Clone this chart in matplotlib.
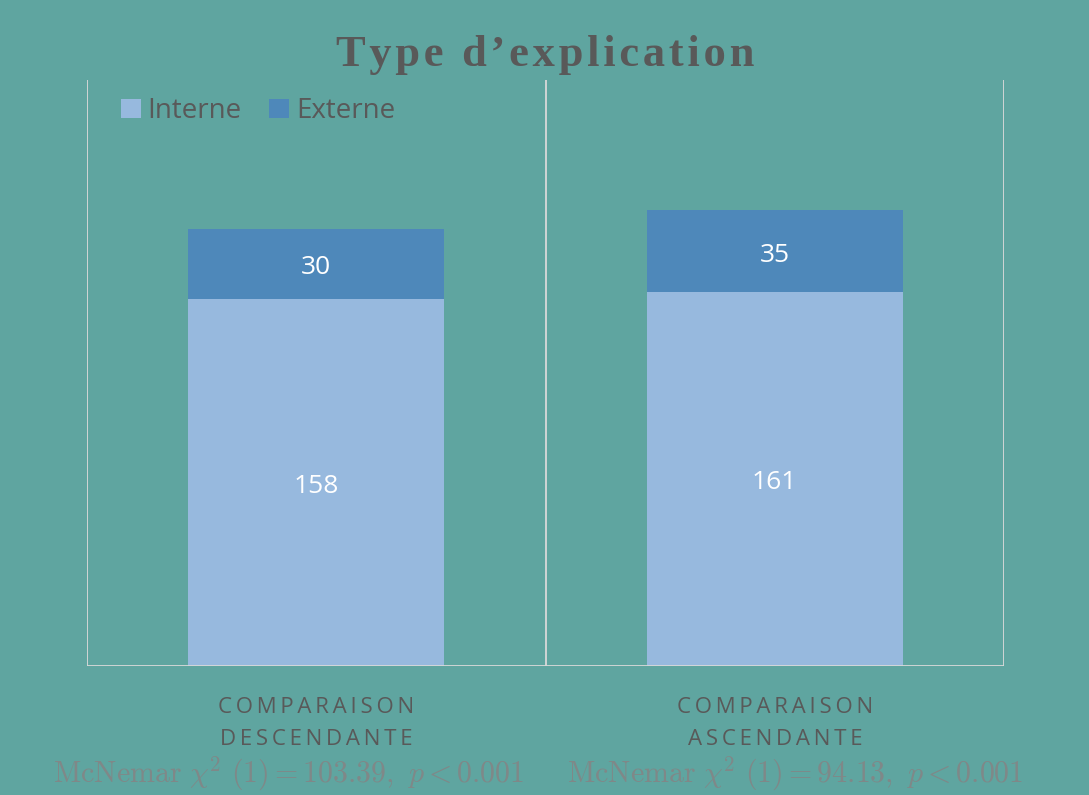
import matplotlib.pyplot as plt
import numpy as np

# data
categories = ['COMPARAISON\nDESCENDANTE', 'COMPARAISON\nASCENDANTE']
interne = [158, 161]
externe = [30, 35]
stats = [r'$\mathrm{McNemar}\ \chi^2\ (1) = 103.39,\ p < 0.001$',
         r'$\mathrm{McNemar}\ \chi^2\ (1) = 94.13,\ p < 0.001$']
stat_x = [289, 795]  # pixel centres of the stats lines

bg = '#5FA5A0'
c_int = '#97B9DE'
c_ext = '#4E88BA'
grey = '#595959'
line = '#D9D9D9'

plt.rcParams['mathtext.fontset'] = 'cm'

def spaced(s, sp='\u200a'):
    return '\n'.join(sp.join(list(l)) for l in s.split('\n'))

fig = plt.figure(figsize=(10.89, 7.95), dpi=100, facecolor=bg)
ax = fig.add_axes([87/1089, 1-666/795, (1004-87)/1089, (666-80)/795])
ax.set_facecolor(bg)

x = np.arange(len(categories))
w = 0.558
ax.bar(x, interne, w, color=c_int, label='Interne')
ax.bar(x, externe, w, bottom=interne, color=c_ext, label='Externe')
ax.set_xlim(-0.5, len(categories) - 0.5)
ax.set_ylim(0, 252)

for i in range(len(categories)):
    ax.annotate(str(interne[i]), (x[i], interne[i] / 2), xytext=(0, -3),
                textcoords='offset points', ha='center', va='center',
                color='white', fontsize=19, family='Open Sans')
    ax.annotate(str(externe[i]), (x[i], interne[i] + externe[i] / 2), xytext=(0, -3),
                textcoords='offset points', ha='center', va='center',
                color='white', fontsize=19, family='Open Sans')

# separators
for xv in [-0.5, 0.5, 1.5]:
    ax.axvline(xv, color=line, lw=1.3)
for s in ax.spines.values():
    s.set_visible(False)
ax.axhline(0, color=line, lw=2)
ax.set_yticks([])
ax.set_xticks(x)
ax.set_xticklabels([spaced(c, '\u2009') for c in categories], color=grey, fontsize=16,
                   family='Open Sans', linespacing=1.7)
ax.tick_params(axis='x', length=0, pad=22)

ax.legend(loc='upper left', bbox_to_anchor=(0.01, 1.013), ncol=2, frameon=False,
          handlelength=0.7, handleheight=0.7, handletextpad=0.25,
          columnspacing=1.0, labelcolor=grey, prop={'family': 'Open Sans', 'size': 20})

fig.text(545/1089, 1-55/795, spaced('Type d’explication', '\u200a'), ha='center', va='center',
         fontsize=32, fontweight='bold', family='Liberation Serif', color=grey)

for i in range(len(categories)):
    fig.text(stat_x[i] / 1089, 1-774/795, stats[i],
             ha='center', va='center', fontsize=21.5, color='#7F8888')

fig.savefig('out.png', facecolor=bg)
